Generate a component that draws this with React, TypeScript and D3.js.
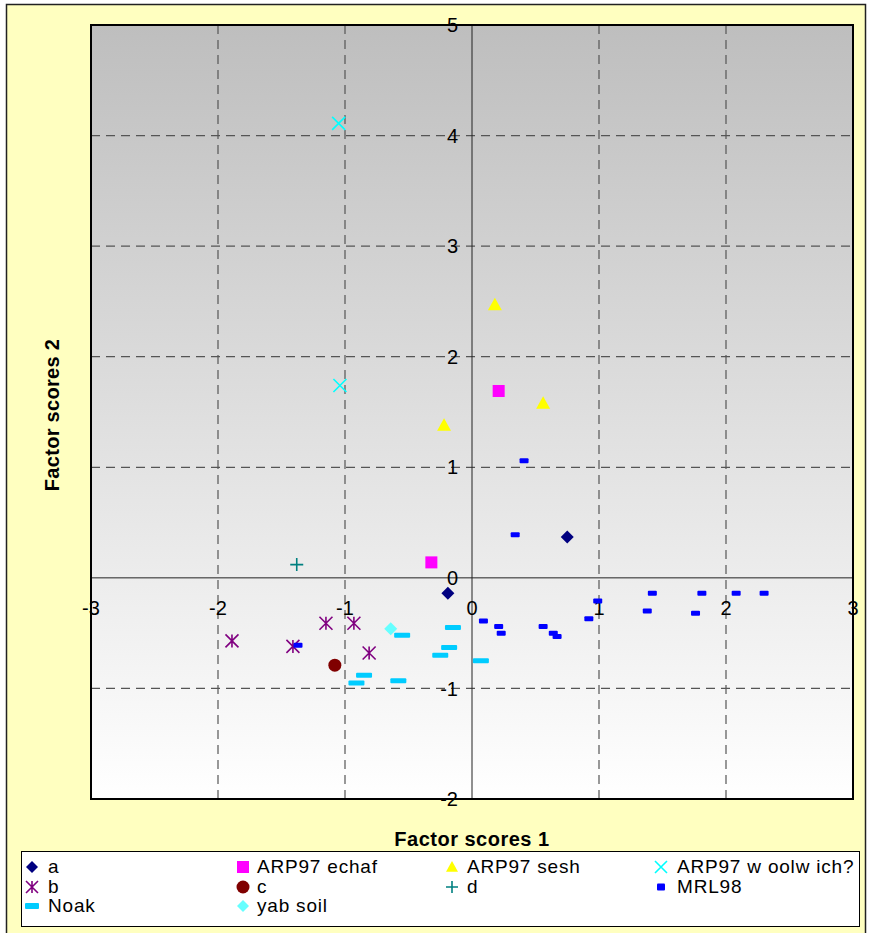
import React from "react";
import * as d3 from "d3";

// chart values
const xTicks = [-3, -2, -1, 0, 1, 2, 3];
const yTicks = [-2, -1, 0, 1, 2, 3, 4, 5];

const aPts = [[-0.19, -0.14], [0.75, 0.37]];
const echafPts = [[0.21, 1.69], [-0.32, 0.14]];
const seshPts = [[0.18, 2.47], [0.56, 1.58], [-0.22, 1.38]];
const woolwichPts = [[-1.05, 4.11], [-1.04, 1.74]];
const bPts = [[-1.89, -0.57], [-1.41, -0.62], [-1.15, -0.41], [-0.93, -0.41], [-0.81, -0.68]];
const cPts = [[-1.08, -0.79]];
const dPts = [[-1.38, 0.12]];
const mrlPts = [
  [-1.37, -0.61], [0.09, -0.39], [0.21, -0.44], [0.23, -0.5], [0.56, -0.44],
  [0.64, -0.5], [0.67, -0.53], [0.92, -0.37], [0.99, -0.21], [1.38, -0.3],
  [1.42, -0.14], [1.76, -0.32], [1.81, -0.14], [2.08, -0.14], [2.3, -0.14],
  [0.41, 1.06], [0.34, 0.39]
];
const noakPts = [
  [-0.55, -0.52], [-0.15, -0.45], [-0.18, -0.63], [-0.25, -0.7],
  [-0.85, -0.88], [-0.91, -0.95], [-0.58, -0.93], [0.07, -0.75]
];
const yabPts = [[-0.64, -0.46]];

const seriesNames = ["a", "ARP97 echaf", "ARP97 sesh", "ARP97 w oolw ich?", "b", "c", "d", "MRL98", "Noak", "yab soil"];

const series = [
  { name: seriesNames[0], data: aPts, color: "#000080", shape: "diamond" },
  { name: seriesNames[1], data: echafPts, color: "#FF00FF", shape: "square" },
  { name: seriesNames[2], data: seshPts, color: "#FFFF00", shape: "triangle" },
  { name: seriesNames[3], data: woolwichPts, color: "#00FFFF", shape: "x" },
  { name: seriesNames[4], data: bPts, color: "#800080", shape: "star" },
  { name: seriesNames[5], data: cPts, color: "#800000", shape: "circle" },
  { name: seriesNames[6], data: dPts, color: "#008080", shape: "plus" },
  { name: seriesNames[7], data: mrlPts, color: "#0000FF", shape: "dash" },
  { name: seriesNames[8], data: noakPts, color: "#00CCFF", shape: "longdash" },
  { name: seriesNames[9], data: yabPts, color: "#66FFFF", shape: "diamond" }
];

const W = 869;
const H = 933;
const plot = { left: 91, right: 853, top: 25, bottom: 799 };
const font = "Liberation Sans, Arial, sans-serif";

const x = d3.scaleLinear().domain([-3, 3]).range([plot.left, plot.right]);
const y = d3.scaleLinear().domain([-2, 5]).range([plot.bottom, plot.top]);

const Marker = ({ shape, color, cx, cy, s, legend }) => {
  if (shape === "diamond") {
    return <path d={`M${cx},${cy - s}L${cx + s},${cy}L${cx},${cy + s}L${cx - s},${cy}Z`} fill={color} />;
  }
  if (shape === "square") {
    return <rect x={cx - s} y={cy - s} width={s * 2} height={s * 2} fill={color} />;
  }
  if (shape === "triangle") {
    return <path d={`M${cx},${cy - s}L${cx + s},${cy + s * 0.8}L${cx - s},${cy + s * 0.8}Z`} fill={color} />;
  }
  if (shape === "circle") {
    return <circle cx={cx} cy={cy} r={s} fill={color} />;
  }
  if (shape === "x") {
    return (
      <path d={`M${cx - s},${cy - s}L${cx + s},${cy + s}M${cx - s},${cy + s}L${cx + s},${cy - s}`}
        stroke={color} strokeWidth={1.6} fill="none" />
    );
  }
  if (shape === "star") {
    return (
      <path d={`M${cx - s},${cy - s}L${cx + s},${cy + s}M${cx - s},${cy + s}L${cx + s},${cy - s}M${cx},${cy - s}L${cx},${cy + s}`}
        stroke={color} strokeWidth={1.6} fill="none" />
    );
  }
  if (shape === "plus") {
    return (
      <path d={`M${cx - s},${cy}L${cx + s},${cy}M${cx},${cy - s}L${cx},${cy + s}`}
        stroke={color} strokeWidth={1.6} fill="none" />
    );
  }
  if (shape === "dash") {
    const w = legend ? 8 : 9;
    const h = legend ? 7 : 5;
    return <rect x={cx - w / 2} y={cy - h / 2} width={w} height={h} rx={1} fill={color} />;
  }
  if (shape === "longdash") {
    const w = legend ? 14 : 16;
    const h = legend ? 6 : 5;
    return <rect x={cx - w / 2} y={cy - h / 2} width={w} height={h} rx={1} fill={color} />;
  }
  return null;
};

const sizeFor = (shape) => {
  if (shape === "diamond") return 6.5;
  if (shape === "square") return 6;
  if (shape === "triangle") return 7;
  if (shape === "circle") return 6.5;
  return 6.5;
};

const legendCols = [{ m: 32, t: 48 }, { m: 243, t: 257 }, { m: 452, t: 467 }, { m: 661, t: 677 }];
const legendRows = [867, 887, 906];
const legendSlots = [
  [0, 0], [0, 1], [0, 2], [0, 3],
  [1, 0], [1, 1], [1, 2], [1, 3],
  [2, 0], [2, 1]
];

export default function App() {
  return (
    <div style={{ position: "absolute", left: 0, top: 0 }}>
      <svg width={W} height={H} xmlns="http://www.w3.org/2000/svg" style={{ display: "block" }}>
        <defs>
          <linearGradient id="plotBg" x1="0" y1="0" x2="0" y2="1">
            <stop offset="0" stopColor="#BEBEBE" />
            <stop offset="1" stopColor="#FFFFFF" />
          </linearGradient>
          <clipPath id="plotClip">
            <rect x={plot.left} y={plot.top} width={plot.right - plot.left} height={plot.bottom - plot.top} />
          </clipPath>
        </defs>

        <rect x={6.5} y={4.5} width={859} height={940} fill="#FFFFC0" stroke="#222" strokeWidth={1.5} />

        <rect x={plot.left} y={plot.top} width={plot.right - plot.left} height={plot.bottom - plot.top}
          fill="url(#plotBg)" />

        {/* dashed grid */}
        <g stroke="#555" strokeWidth={1.2} strokeDasharray="9,6">
          {xTicks.filter((t) => t !== 0 && t !== -3 && t !== 3).map((t) => (
            <line key={`gx${t}`} x1={x(t)} x2={x(t)} y1={plot.top} y2={plot.bottom} />
          ))}
          {yTicks.filter((t) => t !== 0 && t !== -2 && t !== 5).map((t) => (
            <line key={`gy${t}`} x1={plot.left} x2={plot.right} y1={y(t)} y2={y(t)} />
          ))}
        </g>

        {/* axes crossing at zero */}
        <line x1={x(0)} x2={x(0)} y1={plot.top} y2={plot.bottom} stroke="#222" strokeWidth={1} />
        <line x1={plot.left} x2={plot.right} y1={y(0)} y2={y(0)} stroke="#222" strokeWidth={1} />

        <rect x={plot.left} y={plot.top} width={plot.right - plot.left} height={plot.bottom - plot.top}
          fill="none" stroke="#000" strokeWidth={2} />

        {/* tick labels */}
        <g fontFamily={font} fontSize={20} fill="#000">
          {yTicks.map((t) => (
            <text key={`yl${t}`} x={x(0) - 14} y={y(t)} dy="0.36em" textAnchor="end">{t}</text>
          ))}
          {xTicks.map((t) => (
            <text key={`xl${t}`} x={x(t)} y={y(0) + 37} textAnchor="middle">{t}</text>
          ))}
        </g>

        {/* points */}
        <g clipPath="url(#plotClip)">
          {series.map((s) =>
            s.data.map((d, i) => (
              <Marker key={`${s.name}${i}`} shape={s.shape} color={s.color}
                cx={x(d[0])} cy={y(d[1])} s={sizeFor(s.shape)} />
            ))
          )}
        </g>

        {/* axis titles */}
        <text x={472} y={846} textAnchor="middle" fontFamily={font} fontSize={20} fontWeight="bold"
          letterSpacing={0.5}>Factor scores 1</text>
        <text transform="translate(59,415) rotate(-90)" textAnchor="middle" fontFamily={font} fontSize={20}
          fontWeight="bold" letterSpacing={0.3}>Factor scores 2</text>

        {/* legend */}
        <rect x={21.5} y={851.5} width={838} height={75} fill="#FFFFFF" stroke="#000" strokeWidth={1} />
        {series.map((s, i) => {
          const [r, c] = legendSlots[i];
          const cy = legendRows[r];
          return (
            <g key={`lg${s.name}`}>
              <Marker shape={s.shape} color={s.color} cx={legendCols[c].m} cy={cy}
                s={s.shape === "circle" ? 6.5 : 6} legend />
              <text x={legendCols[c].t} y={cy + 6} fontFamily={font} fontSize={19} letterSpacing={0.8}>
                {s.name}
              </text>
            </g>
          );
        })}
      </svg>
    </div>
  );
}
